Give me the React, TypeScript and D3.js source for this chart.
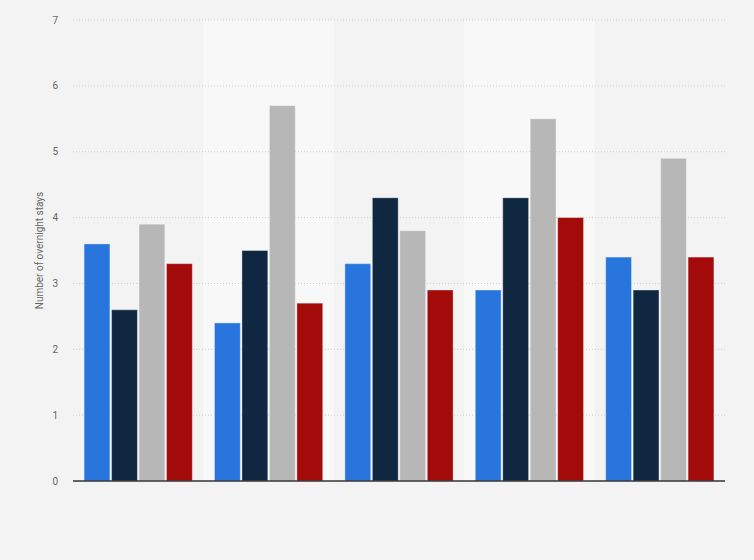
import React from "react";
import * as d3 from "d3";

const categories = ["Group 1", "Group 2", "Group 3", "Group 4", "Group 5"];
const seriesNames = ["Series A", "Series B", "Series C", "Series D"];
const seriesA = [3.6, 2.4, 3.3, 2.9, 3.4];
const seriesB = [2.6, 3.5, 4.3, 4.3, 2.9];
const seriesC = [3.9, 5.7, 3.8, 5.5, 4.9];
const seriesD = [3.3, 2.7, 2.9, 4.0, 3.4];
const seriesColors = ["#2876dd", "#0f2740", "#b7b7b7", "#a30a0a"];
const yTicks = [0, 1, 2, 3, 4, 5, 6, 7];
const yLabel = "Number of overnight stays";

const W = 754;
const H = 560;
const M = { left: 73, right: 29, top: 20, bottom: 79 };

export default function App() {
  const series = [seriesA, seriesB, seriesC, seriesD];
  const x = d3
    .scaleBand<string>()
    .domain(categories)
    .range([M.left, W - M.right])
    .padding(0);
  const bw = x.bandwidth();
  const pad = bw * 0.085;
  const inner = d3
    .scaleBand<string>()
    .domain(seriesNames)
    .range([pad, bw - pad])
    .paddingInner(0.06);
  const y = d3
    .scaleLinear()
    .domain([0, 7])
    .range([H - M.bottom, M.top]);

  return (
    <svg
      width={W}
      height={H}
      style={{ position: "absolute", left: 0, top: 0, display: "block" }}
      fontFamily="Roboto, 'Noto Sans', sans-serif"
    >
      <rect x={0} y={0} width={W} height={H} fill="#f3f3f3" />
      {categories.map((c, i) =>
        i % 2 === 1 ? (
          <rect
            key={c}
            x={x(c)}
            y={M.top}
            width={bw}
            height={H - M.bottom - M.top}
            fill="#f8f8f8"
          />
        ) : null
      )}
      {yTicks.map((t) => (
        <g key={t}>
          {t > 0 && (
            <line
              x1={M.left}
              x2={W - M.right}
              y1={y(t)}
              y2={y(t)}
              stroke="#cfcfcf"
              strokeWidth={1}
              strokeDasharray="1,2"
            />
          )}
          <text
            x={58}
            y={y(t)}
            dy="0.35em"
            textAnchor="end"
            fontSize={10}
            fill="#666"
          >
            {t}
          </text>
        </g>
      ))}
      <text
        transform={`translate(43,${(M.top + H - M.bottom) / 2}) rotate(-90)`}
        textAnchor="middle"
        fontSize={10}
        fill="#666"
      >
        {yLabel}
      </text>
      {categories.map((c, i) => (
        <g key={c} transform={`translate(${x(c)},0)`}>
          {series.map((s, j) => (
            <rect
              key={j}
              x={inner(seriesNames[j])}
              y={y(s[i])}
              width={inner.bandwidth()}
              height={y(0) - y(s[i])}
              fill={seriesColors[j]}
              stroke="rgba(255,255,255,0.35)"
              strokeWidth={1}
            />
          ))}
        </g>
      ))}
      <line
        x1={M.left}
        x2={W - M.right}
        y1={y(0)}
        y2={y(0)}
        stroke="#333"
        strokeWidth={1.5}
      />
    </svg>
  );
}
